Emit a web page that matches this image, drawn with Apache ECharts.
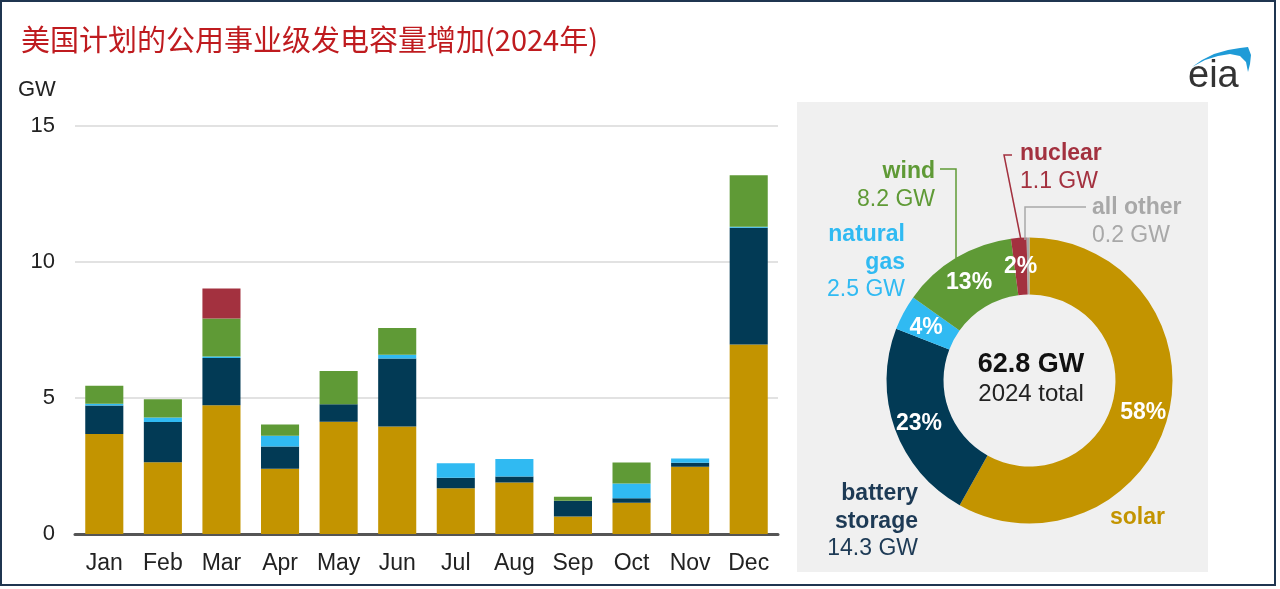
<!DOCTYPE html>
<html>
<head>
<meta charset="utf-8">
<script src="https://cdn.jsdelivr.net/npm/echarts@6/dist/echarts.min.js"></script>
<style>
html,body{margin:0;padding:0;background:#fff;}
#main{width:1280px;height:589px;}
</style>
</head>
<body>
<div id="main"></div>
<script>
// ---- data ----
const months = ['Jan','Feb','Mar','Apr','May','Jun','Jul','Aug','Sep','Oct','Nov','Dec'];
const solar   = [3.68,2.64,4.73,2.40,4.13,3.95,1.68,1.89,0.64,1.15,2.47,6.97];
const battery = [1.04,1.48,1.74,0.82,0.64,2.50,0.39,0.22,0.58,0.16,0.15,4.29];
const gas     = [0.07,0.16,0.06,0.39,0.00,0.14,0.53,0.65,0.00,0.55,0.16,0.04];
const wind    = [0.66,0.67,1.39,0.42,1.22,0.98,0.00,0.00,0.15,0.77,0.00,1.89];
const nuclear = [0,0,1.11,0,0,0,0,0,0,0,0,0];
const yTicks = [0,5,10,15];

const donutNames  = ['solar','battery storage','natural gas','wind','nuclear','all other'];
const donutValues = [36.5,14.3,2.5,8.2,1.1,0.2];

const colors = {
  solar:'#c39400', battery:'#023a55', gas:'#30baf2', wind:'#5f9a36', nuclear:'#a3313f', other:'#a9a9a9'
};
const donutColors = [colors.solar, colors.battery, colors.gas, colors.wind, colors.nuclear, colors.other];

const total = donutValues.reduce((a,b)=>a+b,0);
const pct = v => Math.round(v/total*100);

const chart = echarts.init(document.getElementById('main'));
const FF = 'Liberation Sans, Arial, sans-serif';

function barSeries(name, data, color){
  return {name, type:'bar', stack:'t', data, barCategoryGap:'35%', itemStyle:{color}, emphasis:{disabled:true}};
}

function lbl(x,y,align,color,lines,val){
  return {
    type:'text', x, y, z:100,
    style:{
      text: lines.map(l=>`{b|${l}}`).join('\n') + `\n{n|${val} GW}`,
      align, verticalAlign:'top',
      rich:{
        b:{fontFamily:FF, fontSize:23, fontWeight:'bold', fill:color, lineHeight:27.5},
        n:{fontFamily:FF, fontSize:23, fill:color, lineHeight:27.5}
      }
    }
  };
}

const option = {
  animation:false,
  backgroundColor:'#fff',
  textStyle:{fontFamily:FF},
  title:{
    text:'美国计划的公用事业级发电容量增加(2024年)',
    left:16, top:20,
    textStyle:{fontFamily:'Noto Sans CJK SC', fontSize:29, fontWeight:'normal', color:'#bf1b1f'}
  },
  grid:{left:75, right:502, top:126, bottom:55},
  xAxis:{
    type:'category', data:months,
    axisLine:{lineStyle:{color:'#555', width:3}},
    axisTick:{show:false},
    axisLabel:{fontSize:23, color:'#222', margin:18, fontFamily:FF}
  },
  yAxis:{
    type:'value', min:yTicks[0], max:yTicks[yTicks.length-1], interval:5,
    axisLine:{show:false}, axisTick:{show:false},
    axisLabel:{fontSize:22, color:'#222', margin:20, fontFamily:FF, padding:[4,0,0,0]},
    splitLine:{lineStyle:{color:'#e2e2e2', width:2}}
  },
  series:[
    barSeries('solar', solar, colors.solar),
    barSeries('battery storage', battery, colors.battery),
    barSeries('natural gas', gas, colors.gas),
    barSeries('wind', wind, colors.wind),
    barSeries('nuclear', nuclear, colors.nuclear),
    {
      type:'pie', center:[1029.5,380.5], radius:[86,143], startAngle:90, clockwise:true,
      emphasis:{disabled:true}, z:5,
      label:{
        show:true, position:'inside', color:'#fff', fontWeight:'bold', fontSize:23, fontFamily:FF,
        offset:[0,3],
        formatter: p => p.percent < 1 ? '' : pct(p.value)+'%'
      },
      labelLine:{show:false},
      data: donutNames.map((n,i)=>({name:n, value:donutValues[i], itemStyle:{color:donutColors[i]}}))
    }
  ],
  graphic:[
    {type:'rect', z:-10, shape:{x:797,y:102,width:411,height:470}, style:{fill:'#f0f0f0'}},
    {type:'rect', z:200, shape:{x:1,y:1,width:1274,height:584}, style:{fill:null, stroke:'#1f3550', lineWidth:2}},
    {type:'text', x:18, y:79, style:{text:'GW', fontFamily:FF, fontSize:22, fill:'#222'}},
    // center text
    {type:'text', x:1031, y:365, z:100, style:{text:total.toFixed(1)+' GW', align:'center', verticalAlign:'middle', fontFamily:FF, fontSize:27, fontWeight:'bold', fill:'#111'}},
    {type:'text', x:1031, y:394, z:100, style:{text:'2024 total', align:'center', verticalAlign:'middle', fontFamily:FF, fontSize:24, fill:'#222'}},
    // outside labels
    lbl(935,158,'right',colors.wind,['wind'],donutValues[3]),
    lbl(905,221,'right',colors.gas,['natural','gas'],donutValues[2]),
    lbl(1020,140,'left',colors.nuclear,['nuclear'],donutValues[4]),
    lbl(1092,194,'left','#a8a8a8',['all other'],donutValues[5]),
    lbl(918,480,'right','#1d3a55',['battery','storage'],donutValues[1]),
    {type:'text', x:1110, y:518, z:100, style:{text:'solar', verticalAlign:'middle', fontFamily:FF, fontSize:23, fontWeight:'bold', fill:colors.solar}},
    // leader lines
    {type:'polyline', z:100, shape:{points:[[940,169],[956,169],[956,258]]}, style:{stroke:colors.wind, lineWidth:1.5, fill:null}},
    {type:'polyline', z:100, shape:{points:[[1012,155],[1004,155],[1021,240]]}, style:{stroke:colors.nuclear, lineWidth:1.5, fill:null}},
    {type:'polyline', z:100, shape:{points:[[1086,207],[1025,207],[1025,240]]}, style:{stroke:'#a8a8a8', lineWidth:1.5, fill:null}},
    // eia logo
    {type:'text', x:1188, y:58, z:100, style:{text:'eia', fontFamily:FF, fontSize:38, fill:'#333'}},
    {type:'polygon', z:100, shape:{points:[[1192,67],[1202,60],[1214,54],[1228,50],[1240,48],[1248,47],[1251,55],[1250,64],[1248,72],[1246,62],[1240,56],[1230,54],[1218,56],[1205,60]]}, style:{fill:'#1f9bd7'}}
  ]
};
chart.setOption(option);
</script>
</body>
</html>
